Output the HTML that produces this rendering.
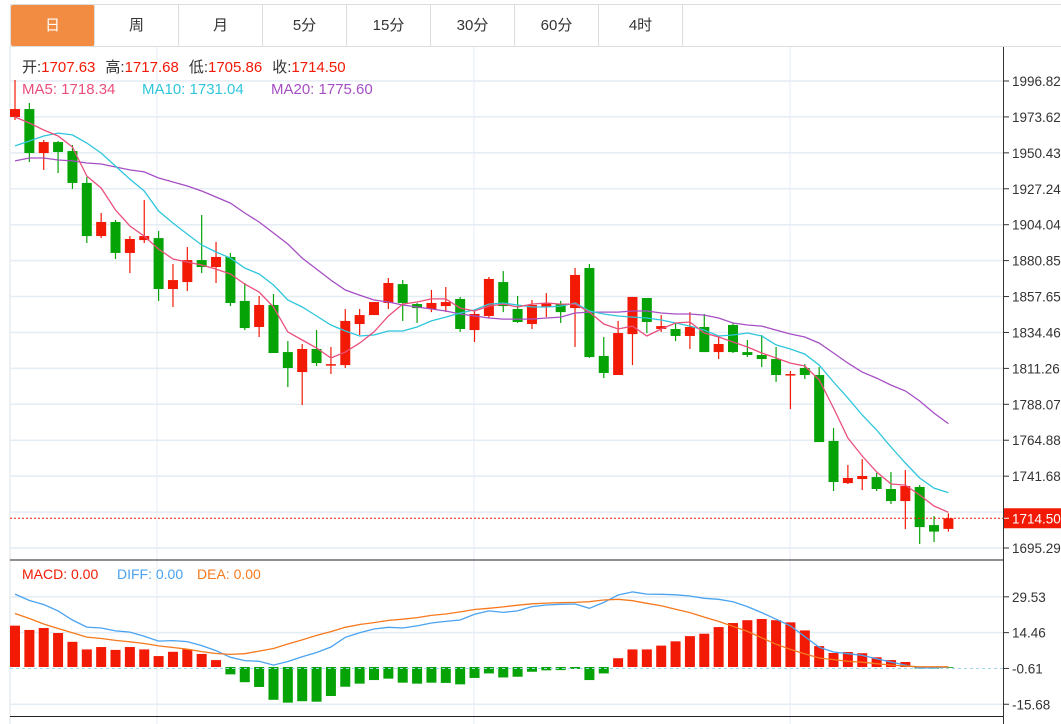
<!DOCTYPE html>
<html><head><meta charset="utf-8">
<style>
html,body{margin:0;padding:0;background:#fff;width:1061px;height:724px;overflow:hidden;font-family:"Liberation Sans","Noto Sans CJK SC",sans-serif;}
#tabs{position:absolute;left:10px;top:4px;width:1051px;height:41px;border-top:1px solid #ddd;border-bottom:1px solid #ddd;border-left:1px solid #ddd;}
.tab{position:absolute;top:0;height:41px;width:83px;border-right:1px solid #ddd;text-align:center;line-height:41px;font-size:15px;color:#333;}
.tab.on{background:#f28c42;color:#fff;border-radius:2px;}
svg{position:absolute;left:0;top:0;}
</style></head><body>
<div id="tabs">
<div class="tab on" style="left:0">日</div>
<div class="tab" style="left:84px">周</div>
<div class="tab" style="left:168px">月</div>
<div class="tab" style="left:252px">5分</div>
<div class="tab" style="left:336px">15分</div>
<div class="tab" style="left:420px">30分</div>
<div class="tab" style="left:504px">60分</div>
<div class="tab" style="left:588px">4时</div>
</div>
<svg id="chart" width="1061" height="724" style="top:0"></svg>
<script>
const opens=[1973.6,1978.7,1950.3,1957.4,1951.6,1931.0,1896.7,1905.8,1885.8,1894.1,1895.4,1862.5,1867.0,1881.2,1876.7,1883.2,1854.8,1838.0,1852.2,1821.8,1808.9,1823.8,1813.4,1813.4,1839.9,1845.7,1853.5,1865.7,1852.8,1849.6,1851.5,1856.1,1836.0,1845.1,1867.0,1849.6,1839.9,1850.9,1852.8,1850.2,1876.1,1819.3,1807.0,1833.4,1856.7,1836.7,1836.7,1832.2,1838.0,1821.8,1839.3,1821.8,1819.9,1817.3,1807.0,1811.5,1807.0,1764.4,1737.2,1739.8,1741.1,1733.4,1725.6,1734.7,1710.1,1707.63];
const highs=[1997.5,1982.6,1958.7,1958.1,1955.5,1934.8,1911.6,1907.1,1896.7,1920.0,1900.0,1878.7,1889.6,1910.3,1892.9,1885.8,1866.4,1858.0,1859.3,1828.9,1827.0,1836.0,1825.1,1849.6,1849.6,1854.1,1869.6,1868.3,1853.5,1861.9,1863.8,1857.4,1848.9,1870.3,1874.1,1858.0,1855.4,1859.9,1854.8,1876.1,1878.7,1831.5,1841.9,1857.4,1856.7,1845.7,1840.6,1847.6,1846.4,1831.5,1840.6,1829.6,1832.8,1825.1,1809.6,1814.1,1812.1,1772.8,1748.9,1752.7,1743.7,1744.3,1745.6,1735.9,1715.9,1717.68];
const lows=[1971.6,1944.5,1939.4,1937.4,1927.1,1892.2,1895.4,1881.9,1872.8,1892.2,1854.8,1850.9,1861.2,1872.8,1866.4,1851.5,1836.0,1831.5,1821.2,1799.2,1787.6,1812.8,1807.6,1811.5,1832.8,1845.7,1849.6,1841.9,1840.6,1847.6,1847.6,1834.8,1828.3,1843.8,1847.6,1840.6,1836.7,1844.4,1840.6,1825.1,1818.0,1805.0,1807.0,1813.4,1834.1,1834.8,1828.9,1823.8,1821.8,1817.3,1821.2,1818.6,1812.1,1802.5,1785.0,1804.4,1763.7,1732.1,1736.6,1732.7,1732.1,1723.7,1707.5,1697.9,1699.1,1705.86];
const closes=[1978.7,1950.3,1957.4,1951.0,1931.0,1896.7,1905.8,1885.8,1894.8,1896.7,1862.5,1868.3,1881.2,1876.7,1883.2,1853.5,1837.3,1852.2,1821.2,1811.5,1823.8,1814.7,1814.0,1841.9,1845.7,1854.1,1866.4,1853.5,1850.2,1853.5,1854.1,1836.7,1846.4,1869.0,1851.5,1841.2,1852.2,1853.5,1847.6,1871.6,1818.6,1808.3,1834.1,1857.4,1841.2,1838.6,1832.2,1838.0,1821.8,1827.0,1821.8,1819.9,1817.3,1807.0,1807.6,1807.0,1763.7,1737.9,1740.5,1741.8,1733.4,1725.6,1735.3,1708.8,1705.9,1714.50];
const ma5=[1973.6,1969.7,1965.2,1961.3,1954.2,1935.5,1927.7,1913.5,1903.2,1896.7,1888.3,1881.9,1879.9,1878.0,1875.4,1872.2,1865.7,1860.6,1850.9,1834.8,1829.6,1824.4,1818.0,1821.8,1827.6,1834.8,1845.1,1852.8,1854.1,1856.1,1856.1,1850.2,1848.3,1851.5,1852.8,1850.9,1852.8,1853.5,1852.8,1852.8,1847.6,1839.9,1836.7,1838.6,1832.2,1836.7,1840.6,1841.2,1834.1,1831.5,1828.3,1825.1,1821.2,1818.0,1814.7,1812.8,1803.8,1785.7,1766.3,1754.7,1744.4,1736.6,1735.9,1729.5,1722.4,1718.34];
const ma10=[1954.9,1958.1,1961.3,1963.2,1962.0,1956.8,1950.3,1941.9,1933.5,1925.8,1912.9,1905.1,1898.0,1890.9,1886.4,1882.5,1876.1,1872.2,1865.1,1855.4,1850.9,1845.1,1839.3,1835.4,1832.2,1832.8,1835.4,1835.4,1838.0,1841.9,1844.4,1847.0,1849.0,1852.8,1853.5,1852.2,1850.9,1850.9,1851.5,1853.5,1848.3,1846.4,1845.1,1844.4,1843.8,1842.5,1840.6,1838.6,1836.0,1832.2,1832.8,1834.1,1832.2,1826.4,1823.8,1820.5,1813.4,1802.5,1792.1,1781.2,1771.5,1760.5,1750.2,1740.5,1734.0,1731.04];
const ma20=[1945.2,1947.1,1947.1,1945.8,1945.2,1943.9,1943.2,1941.3,1939.4,1938.1,1934.2,1931.6,1929.0,1925.8,1921.9,1918.0,1911.6,1905.8,1898.7,1891.6,1882.5,1875.4,1868.3,1861.9,1858.6,1855.4,1854.1,1852.2,1850.9,1849.6,1848.3,1846.4,1845.1,1843.8,1843.1,1843.1,1843.1,1843.8,1844.4,1847.0,1847.6,1847.6,1847.6,1848.3,1848.3,1847.0,1846.4,1846.4,1845.7,1843.8,1840.6,1839.3,1838.6,1836.0,1833.5,1831.5,1827.6,1821.2,1814.7,1808.9,1805.0,1800.5,1796.7,1790.2,1782.4,1775.60];
const macdHist=[17.4,15.6,16.4,14.3,10.6,7.4,8.4,7.2,8.4,7.4,4.6,6.4,7.4,5.5,2.9,-3.1,-6.4,-8.4,-13.8,-15.0,-14.4,-14.6,-12.2,-8.3,-7.0,-5.5,-4.9,-6.6,-7.0,-6.6,-6.7,-7.3,-4.6,-2.7,-4.4,-4.1,-2.0,-1.4,-1.3,-0.8,-5.5,-2.7,3.7,7.4,7.4,9.0,10.8,13.0,14.0,16.8,18.5,19.7,20.2,19.7,18.8,15.4,8.8,5.9,6.3,5.8,4.1,2.9,2.1,-0.7,-0.7,-0.3];
const diff=[30.7,28.0,26.3,23.6,19.8,16.8,16.4,15.2,14.7,12.9,10.9,11.1,10.7,9.0,6.9,4.1,2.7,2.4,0.8,2.3,4.3,6.1,8.4,12.5,14.4,16.0,16.7,16.4,17.3,18.5,19.2,19.8,22.2,23.6,23.0,23.6,25.4,26.1,26.4,26.5,24.7,27.2,30.3,31.6,30.7,30.6,30.4,29.9,28.9,28.5,27.5,25.4,22.9,20.1,17.3,12.8,8.3,6.3,5.6,4.9,3.5,2.1,0.8,-0.4,-0.3,0.0];
const dea=[22.5,20.4,18.1,16.2,14.4,12.6,12.0,11.2,10.6,9.9,8.9,8.2,7.5,6.5,5.7,5.3,5.6,6.7,7.8,9.7,11.4,13.3,14.9,16.7,17.9,18.7,19.6,20.1,20.8,21.7,22.3,23.2,24.2,24.7,25.3,26.0,26.6,26.9,27.1,27.2,27.5,28.2,28.5,27.9,26.8,25.8,24.3,22.9,21.0,19.2,17.1,15.0,12.3,9.6,7.4,5.5,3.8,3.1,2.4,2.0,1.4,0.8,0.4,0.1,0.1,0.1];
const priceTicks=["1996.82","1973.62","1950.43","1927.24","1904.04","1880.85","1857.65","1834.46","1811.26","1788.07","1764.88","1741.68","1718.49","1695.29"];
const macdTicks=["29.53","14.46","-0.61","-15.68"];
const lastPrice=1714.50;

const svg=document.getElementById('chart');
const NS='http://www.w3.org/2000/svg';
function mk(tag,attrs,parent){const e=document.createElementNS(NS,tag);for(const k in attrs)e.setAttribute(k,attrs[k]);(parent||svg).appendChild(e);return e;}
function xI(i){return 15+14.36*i;}
function yP(p){return 81+(1996.82-p)*1.5488;}
function yM(v){return 667-v*2.376;}
const RED='#f21a05',GREEN='#05a305';

const grid=mk('g',{});


mk('line',{x1:10,y1:47,x2:10,y2:724,stroke:'#dde3ea'},grid);
[157,474,790].forEach(x=>mk('line',{x1:x,y1:47,x2:x,y2:724,stroke:'#e4ecf4'},grid));
priceTicks.forEach(t=>{const y=yP(parseFloat(t));mk('line',{x1:10,y1:y,x2:1003,y2:y,stroke:'#e4ecf4','stroke-width':1.5},grid);});
macdTicks.forEach(t=>{const y=yM(parseFloat(t));if(t!=='-0.61')mk('line',{x1:10,y1:y,x2:1003,y2:y,stroke:'#e4ecf4','stroke-width':1.5},grid);});

const cg=mk('g',{});


for(let i=0;i<opens.length;i++){
  const up=closes[i]>=opens[i];const col=up?RED:GREEN;const x=xI(i);
  const g=mk('g',{},cg);
  
  
  mk('line',{x1:x,y1:yP(highs[i]),x2:x,y2:yP(lows[i]),stroke:col,'stroke-width':1.2},g);
  const t=yP(Math.max(opens[i],closes[i])),b=yP(Math.min(opens[i],closes[i]));
  mk('rect',{x:x-5,y:t,width:10,height:Math.max(1.5,b-t),fill:col},g);
}
function line(arr,fy,col,name){
  const pts=arr.map((v,i)=>xI(i).toFixed(1)+','+fy(v).toFixed(1)).join(' ');
  const p=mk('polyline',{points:pts,fill:'none',stroke:col,'stroke-width':1.3});
  
  
}
line(ma20,yP,'#a64fc4','ma20-line');
line(ma10,yP,'#2fc6dc','ma10-line');
line(ma5,yP,'#ea4f7c','ma5-line');

const ly=yP(lastPrice);
const lp=mk('line',{x1:10,y1:ly,x2:1003,y2:ly,stroke:RED,'stroke-dasharray':'2,2'});



const mg=mk('g',{});


const zl=mk('line',{x1:10,y1:yM(-0.61),x2:1003,y2:yM(-0.61),stroke:'#9fd8ee','stroke-dasharray':'3,3'});


macdHist.forEach((v,i)=>{
  const y0=yM(0),y1=yM(v);
  const r=mk('rect',{x:xI(i)-5,y:Math.min(y0,y1),width:10,height:Math.max(0.8,Math.abs(y1-y0)),fill:v>=0?RED:GREEN},mg);
  
  
});
line(diff,yM,'#4aa3f0','diff-line');
line(dea,yM,'#f57a1f','dea-line');

mk('line',{x1:10,y1:560,x2:1003,y2:560,stroke:'#222'});
mk('line',{x1:10,y1:716.5,x2:1003,y2:716.5,stroke:'#222'});
const ax=mk('line',{x1:1003.5,y1:47,x2:1003.5,y2:724,stroke:'#333'});



const tl=mk('g',{'font-size':'13.5','fill':'#333','font-family':'Liberation Sans, sans-serif'});


priceTicks.forEach(t=>{const y=yP(parseFloat(t));if(t==='1718.49')return;
  mk('line',{x1:1004,y1:y,x2:1009,y2:y,stroke:'#333'},tl);
  const e=mk('text',{x:1012,y:y+5},tl);e.textContent=t;});
macdTicks.forEach(t=>{const y=yM(parseFloat(t));
  mk('line',{x1:1004,y1:y,x2:1009,y2:y,stroke:'#333'},tl);
  const e=mk('text',{x:1012,y:y+5},tl);e.textContent=t;});
const tag=mk('g',{});


mk('rect',{x:1004,y:ly-10,width:57,height:20,fill:'#f21a05'},tag);
mk('line',{x1:1004,y1:ly,x2:1009,y2:ly,stroke:'#fff'},tag);
const tt=mk('text',{x:1012,y:ly+5,'font-size':'13.5',fill:'#fff','font-family':'Liberation Sans, sans-serif'},tag);tt.textContent=lastPrice.toFixed(2);

function txt(x,y,s,col,name,size){const e=mk('text',{x:x,y:y,fill:col,'font-size':size||15,'font-family':'Liberation Sans, Noto Sans CJK SC, sans-serif'});e.textContent=s;
  
  return e;}
const ohlc=[['开:',opens],['高:',highs],['低:',lows],['收:',closes]];
let xx=22;
ohlc.forEach((o,k)=>{
  const n=o[1].length-1;
  const a=txt(xx,72,o[0],'#333','ohlc-label');xx+=a.getComputedTextLength();
  const b=txt(xx,72,o[1][n].toFixed(2),RED,'ohlc-value');xx+=b.getComputedTextLength()+10;
});
txt(22,94,'MA5: '+ma5[ma5.length-1].toFixed(2),'#ea4f7c','ma5-legend');
txt(142,94,'MA10: '+ma10[ma10.length-1].toFixed(2),'#2fc6dc','ma10-legend');
txt(271,94,'MA20: '+ma20[ma20.length-1].toFixed(2),'#a64fc4','ma20-legend');
txt(22,579,'MACD: 0.00',RED,'macd-legend',14);
txt(117,579,'DIFF: 0.00','#4aa3f0','diff-legend',14);
txt(197,579,'DEA: 0.00','#f57a1f','dea-legend',14);
</script>
</body></html>
